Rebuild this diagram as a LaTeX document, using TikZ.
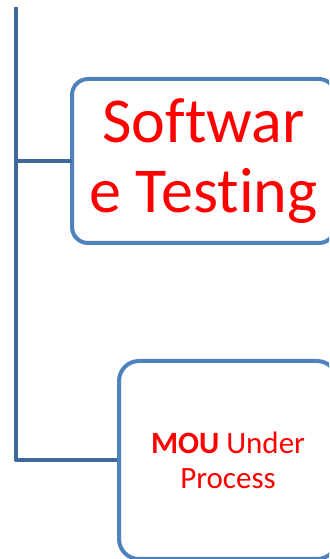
\documentclass[tikz,border=0pt]{standalone}
\usepackage{fontspec}
\setmainfont{Carlito}[Ligatures=NoCommon]
\usepackage{tikz}
\usetikzlibrary{positioning}
\definecolor{linkblue}{HTML}{41689A}
\definecolor{boxblue}{HTML}{4F81BD}
\definecolor{textred}{HTML}{FF0000}

\begin{document}
\begin{tikzpicture}[line cap=round,line join=round,x=1pt,y=1pt]
\tikzset{
  branch/.style={draw=linkblue,line width=4pt},
  itembox/.style={draw=boxblue,line width=4pt,rounded corners=16pt,fill=white,
    text=textred,align=center,inner sep=0pt}
}
\clip (0,0) rectangle (329,559);
\useasboundingbox (0,0) rectangle (329,559);

%laatikot
\node [itembox,minimum width=263pt,minimum height=164pt,
  font=\fontsize{64}{70}\selectfont] (testing) at (203.5,398) {Softwar\\e Testing};
\node [itembox,minimum width=218pt,minimum height=198pt,rounded corners=20pt,
  font=\fontsize{31}{35}\selectfont] (mou) at (228,99) {\textbf{MOU} Under\\Process};

%runko ja haarat
\coordinate (top) at (16,552);
\draw [branch,line cap=butt] (top) |- (mou.west);
\draw [branch] (testing.west) -- (testing.west -| top);
\end{tikzpicture}
\end{document}
